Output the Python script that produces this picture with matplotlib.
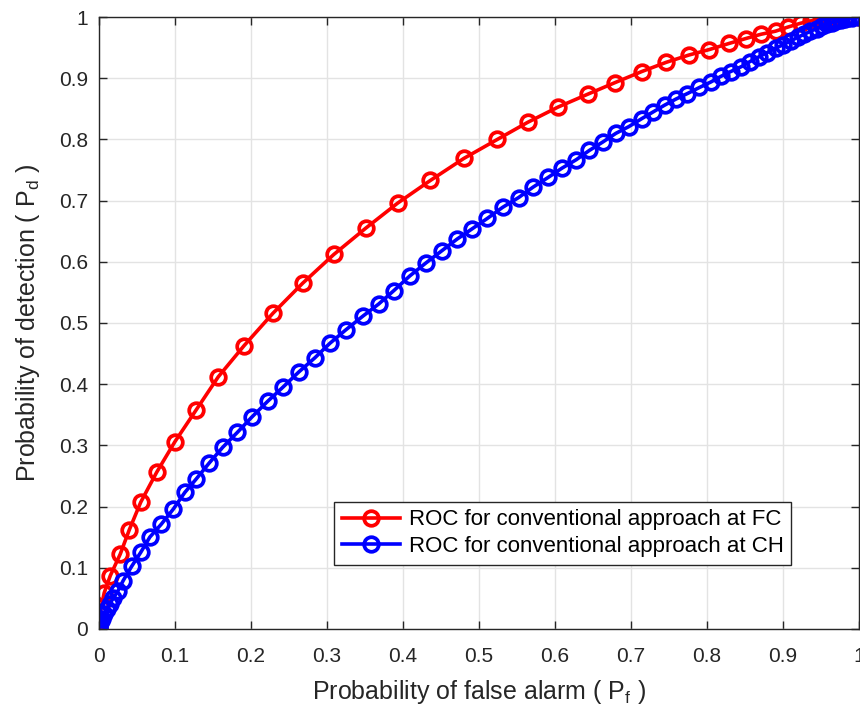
import numpy as np
import matplotlib
matplotlib.use('Agg')
import matplotlib.pyplot as plt

plt.rcParams['font.family'] = ['Liberation Sans', 'DejaVu Sans']
plt.rcParams['mathtext.fontset'] = 'custom'
plt.rcParams['mathtext.rm'] = 'Liberation Sans'
plt.rcParams['mathtext.it'] = 'Liberation Sans'

# ROC at the fusion centre (red)
pf_fc = [0.0, 0.001, 0.003, 0.007, 0.015, 0.028, 0.040, 0.055, 0.076, 0.100,
         0.128, 0.157, 0.191, 0.229, 0.268, 0.309, 0.351, 0.393, 0.436, 0.480,
         0.524, 0.564, 0.604, 0.643, 0.679, 0.714, 0.746, 0.776, 0.803, 0.829,
         0.851, 0.871, 0.890, 0.907, 0.923, 0.937, 0.950, 0.962, 0.973, 0.983,
         1.0]
pd_fc = [0.0, 0.015, 0.035, 0.059, 0.087, 0.122, 0.162, 0.207, 0.256, 0.306,
         0.358, 0.412, 0.463, 0.516, 0.565, 0.612, 0.655, 0.696, 0.733, 0.769,
         0.800, 0.828, 0.853, 0.874, 0.893, 0.911, 0.926, 0.938, 0.947, 0.957,
         0.965, 0.972, 0.977, 0.984, 0.990, 0.994, 0.996, 0.998, 0.999, 1.0,
         1.0]

# ROC at the cluster head (blue)
pf_ch = [0.0, 0.0005, 0.002, 0.004, 0.007, 0.010, 0.014, 0.019, 0.025, 0.032,
         0.043, 0.055, 0.067, 0.082, 0.098, 0.113, 0.128, 0.145, 0.163, 0.182,
         0.201, 0.222, 0.242, 0.263, 0.284, 0.304, 0.325, 0.347, 0.368, 0.388,
         0.409, 0.430, 0.451, 0.471, 0.491, 0.511, 0.531, 0.552, 0.571, 0.591,
         0.609, 0.628, 0.645, 0.663, 0.680, 0.697, 0.714, 0.729, 0.744, 0.759,
         0.774, 0.790, 0.805, 0.818, 0.831, 0.845, 0.856, 0.868, 0.879, 0.890,
         0.900, 0.910, 0.919, 0.928, 0.936, 0.944, 0.951, 0.958, 0.964, 0.970,
         0.976, 0.981, 0.986, 0.991, 1.0]
pd_ch = [0.0, 0.004, 0.009, 0.016, 0.024, 0.032, 0.041, 0.050, 0.062, 0.079,
         0.102, 0.125, 0.150, 0.171, 0.196, 0.223, 0.245, 0.271, 0.297, 0.321,
         0.346, 0.372, 0.395, 0.420, 0.443, 0.467, 0.489, 0.511, 0.531, 0.553,
         0.577, 0.598, 0.618, 0.637, 0.654, 0.671, 0.689, 0.705, 0.722, 0.738,
         0.753, 0.767, 0.782, 0.796, 0.810, 0.821, 0.834, 0.845, 0.856, 0.866,
         0.875, 0.885, 0.894, 0.903, 0.911, 0.919, 0.927, 0.935, 0.942, 0.949,
         0.955, 0.961, 0.967, 0.972, 0.977, 0.981, 0.985, 0.988, 0.991, 0.993,
         0.995, 0.997, 0.998, 0.999, 1.0]

ticks = [0, 0.1, 0.2, 0.3, 0.4, 0.5, 0.6, 0.7, 0.8, 0.9, 1]
tick_labels = ['0', '0.1', '0.2', '0.3', '0.4', '0.5', '0.6', '0.7', '0.8', '0.9', '1']

fig = plt.figure(figsize=(8.6, 7.13), dpi=100)
ax = fig.add_axes([0.115, 0.118, 0.884, 0.858])

ax.plot(pf_fc, pd_fc, '-o', color='red', lw=2.6, ms=10.5, mew=2.7, mfc='none',
        label='ROC for conventional approach at FC')
ax.plot(pf_ch, pd_ch, '-o', color='blue', lw=2.6, ms=10.5, mew=2.7, mfc='none',
        label='ROC for conventional approach at CH')

ax.set_xlim(0, 1)
ax.set_ylim(0, 1)
ax.set_xticks(ticks)
ax.set_xticklabels(tick_labels)
ax.set_yticks(ticks)
ax.set_yticklabels(tick_labels)
ax.grid(True, color='#e3e3e3', lw=1)
ax.set_axisbelow(True)
ax.tick_params(direction='in', length=6, width=1, colors='#262626', labelsize=15,
               top=True, right=True, labelcolor='#262626')
ax.tick_params(axis='x', pad=13)
ax.tick_params(axis='y', pad=8)
for s in ax.spines.values():
    s.set_color('#262626')
    s.set_linewidth(1)

ax.set_xlabel('Probability of false alarm ( P$_\\mathrm{f}$ )', fontsize=18, color='#262626', labelpad=9)
ax.set_ylabel('Probability of detection ( P$_\\mathrm{d}$ )', fontsize=18, color='#262626', labelpad=12)

leg = ax.legend(loc='lower right', bbox_to_anchor=(0.911, 0.105), fontsize=16,
                fancybox=False, framealpha=1, edgecolor='#262626',
                handlelength=2.6, borderpad=0.35, labelspacing=0.25, handletextpad=0.4,
                borderaxespad=0)
leg.get_frame().set_linewidth(1)

fig.savefig('out.png', dpi=100)
